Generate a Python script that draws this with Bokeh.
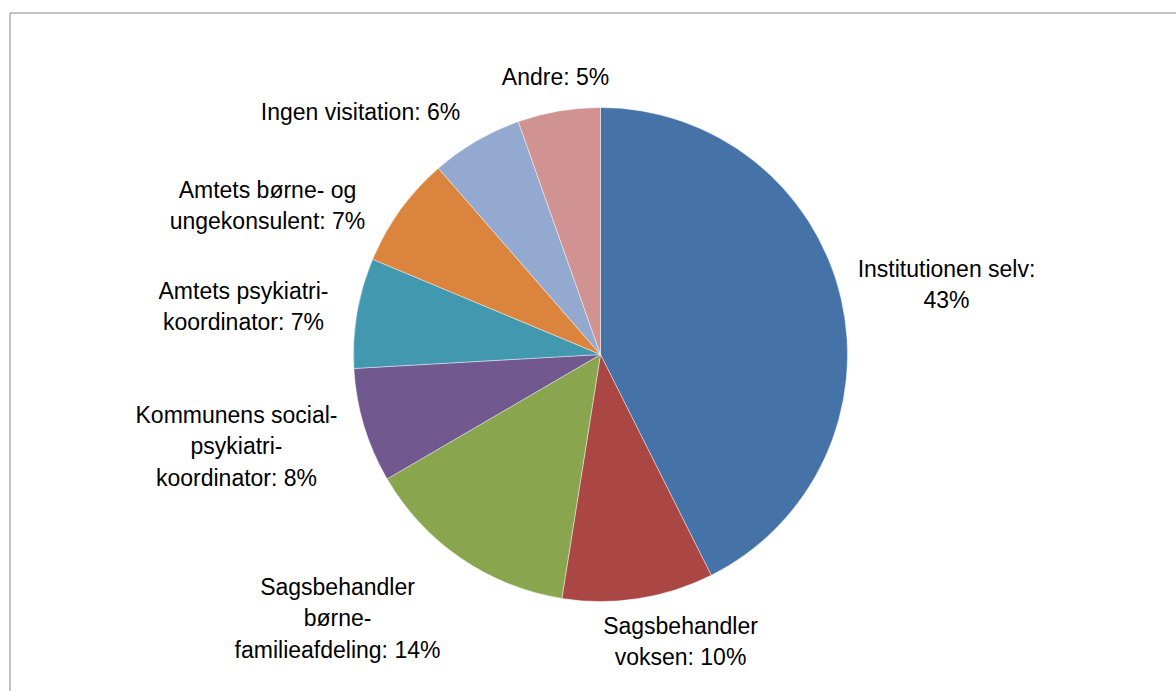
import math
from bokeh.plotting import figure
from bokeh.models import Range1d, ColumnDataSource
from bokeh.core.properties import value
from bokeh.embed import file_html
from bokeh.resources import INLINE

# ---- data ----
categories = [
    "Institutionen selv",
    "Sagsbehandler voksen",
    "Sagsbehandler børne-familieafdeling",
    "Kommunens social-psykiatri-koordinator",
    "Amtets psykiatri-koordinator",
    "Amtets børne- og ungekonsulent",
    "Ingen visitation",
    "Andre",
]
values = [42.6, 9.9, 14.1, 7.5, 7.2, 7.3, 6.0, 5.4]
label_templates = [
    "Institutionen selv:\n{}%",
    "Sagsbehandler\nvoksen: {}%",
    "Sagsbehandler\nbørne-\nfamilieafdeling: {}%",
    "Kommunens social-\npsykiatri-\nkoordinator: {}%",
    "Amtets psykiatri-\nkoordinator: {}%",
    "Amtets børne- og\nungekonsulent: {}%",
    "Ingen visitation: {}%",
    "Andre: {}%",
]

# ---- style / layout ----
colors = ["#4572A7", "#AA4643", "#89A54E", "#71588F",
          "#4198AF", "#DB843D", "#93A9CF", "#D19392"]
RADIUS = 247
# label centre offsets from pie centre (pixels, y up)
label_dx = [346, 80, -263, -364, -357, -333, -240, -45]
label_dy = [70, -287, -264, -92, 48, 149, 243, 278]

total = sum(values)
cum = [0.0]
for v in values:
    cum.append(cum[-1] + v / total)
start = [math.pi / 2 - 2 * math.pi * c for c in cum[:-1]]
end = [math.pi / 2 - 2 * math.pi * c for c in cum[1:]]
pcts = [f"{v / total * 100:.0f}" for v in values]
labels = [t.format(p) for t, p in zip(label_templates, pcts)]

src = ColumnDataSource(dict(cat=categories, val=values, start=start, end=end, color=colors))
lsrc = ColumnDataSource(dict(x=label_dx, y=label_dy, text=labels))

W, H = 1176, 691
CX, CY = 600, 354  # pie centre in page pixels
p = figure(width=W, height=H, output_backend="svg", toolbar_location=None,
           x_range=Range1d(-CX, W - CX), y_range=Range1d(CY - H, CY),
           x_axis_location=None, y_axis_location=None, min_border=0)
p.grid.visible = False
p.outline_line_color = None
p.background_fill_color = "white"
p.border_fill_color = "white"

# chart frame border (top and left only visible)
p.line(x=[9.5 - CX, 9.5 - CX, 1300 - CX], y=[CY - 800, CY - 12.5, CY - 12.5],
       line_color="#868686", line_width=1)

p.wedge(x=0, y=0, radius=RADIUS, start_angle="start", end_angle="end",
        direction="clock", fill_color="color", line_color="white",
        line_width=0.6, line_alpha=0.7, source=src)

p.text(x="x", y="y", text="text", source=lsrc, text_align="center",
       text_baseline="middle", text_font=value("Liberation Sans"),
       text_font_size="23px", text_color="black", text_line_height=1.23)

open("out.html", "w").write(file_html(p, INLINE))
